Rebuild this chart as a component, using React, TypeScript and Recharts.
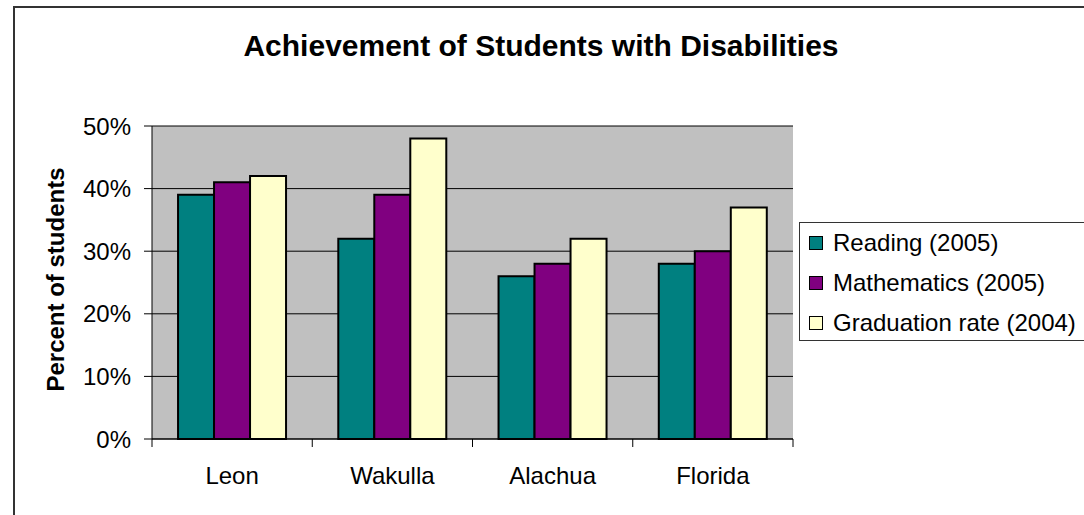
import React from 'react';
import {
  BarChart,
  Bar,
  XAxis,
  YAxis,
  CartesianGrid,
} from 'recharts';

// Chart data
const categories = ['Leon', 'Wakulla', 'Alachua', 'Florida'];
const reading2005 = [39, 32, 26, 28];
const math2005 = [41, 39, 28, 30];
const graduation2004 = [42, 48, 32, 37];
const yTicks = [0, 10, 20, 30, 40, 50];

const series = [
  { key: 'reading', name: 'Reading (2005)', values: reading2005, color: '#008080' },
  { key: 'math', name: 'Mathematics (2005)', values: math2005, color: '#800080' },
  { key: 'grad', name: 'Graduation rate (2004)', values: graduation2004, color: '#FFFFCC' },
];

const chartData = categories.map((name, i) => {
  const row: { [k: string]: string | number } = { name };
  series.forEach(s => {
    row[s.key] = s.values[i];
  });
  return row;
});

const FONT = '"Liberation Sans", Arial, sans-serif';

// category label plus tick marks on the category boundaries (Excel style)
const CategoryTick = (props: any) => {
  const { x, y, payload, index, visibleTicksCount, width } = props;
  const half = payload?.offset || (width / visibleTicksCount) / 2;
  const axisY = y - 28;
  return (
    <g>
      <line x1={x - half} x2={x - half} y1={axisY} y2={axisY + 8} stroke="#000" />
      {index === visibleTicksCount - 1 && (
        <line x1={x + half} x2={x + half} y1={axisY} y2={axisY + 8} stroke="#000" />
      )}
      <text x={x} y={y} dy="0.71em" textAnchor="middle" fontSize={24} fill="#000" fontFamily={FONT}>
        {payload.value}
      </text>
    </g>
  );
};

const YTitle = (props: any) => {
  const { viewBox } = props;
  const cx = viewBox.x + 64;
  const cy = viewBox.y + viewBox.height / 2 - 3;
  return (
    <text
      x={cx}
      y={cy}
      transform={`rotate(-90, ${cx}, ${cy})`}
      textAnchor="middle"
      fontSize={24}
      fontWeight="bold"
      fill="#000"
      fontFamily={FONT}
    >
      Percent of students
    </text>
  );
};

const App: React.FC = () => {
  return (
    <div
      style={{
        position: 'fixed',
        left: 0,
        top: 0,
        width: 1084,
        height: 515,
        overflow: 'hidden',
        background: '#fff',
        fontFamily: FONT,
      }}
    >
      <div
        style={{
          position: 'absolute',
          left: 241,
          top: 31,
          width: 600,
          textAlign: 'center',
          fontSize: 30,
          lineHeight: '30px',
          fontWeight: 'bold',
          color: '#000',
        }}
      >
        Achievement of Students with Disabilities
      </div>

      <div style={{ position: 'absolute', left: 0, top: 0 }}>
        <BarChart
          width={1084}
          height={515}
          data={chartData}
          margin={{ top: 126, right: 291, bottom: 0, left: 0 }}
          barCategoryGap="16.25%"
          barGap={0}
        >
          <CartesianGrid vertical={false} stroke="#000" fill="#C0C0C0" fillOpacity={1} />
          <XAxis
            dataKey="name"
            height={76}
            tickLine={false}
            tickSize={8}
            tickMargin={20}
            axisLine={{ stroke: '#000' }}
            tick={<CategoryTick />}
            interval={0}
          />
          <XAxis xAxisId="top" orientation="top" dataKey="name" height={0} tick={false} tickLine={false} axisLine={{ stroke: '#808080', strokeWidth: 2 }} />
          <YAxis
            width={152}
            domain={[0, 50]}
            ticks={yTicks}
            tickFormatter={(v: number) => `${v}%`}
            tickSize={8}
            tickMargin={13}
            tickLine={{ stroke: '#000' }}
            axisLine={{ stroke: '#000' }}
            tick={{ fontSize: 24, fill: '#000', fontFamily: FONT }}
            label={<YTitle />}
            interval={0}
          />
          <YAxis yAxisId="right" orientation="right" width={0} domain={[0, 50]} tick={false} tickLine={false} axisLine={{ stroke: '#808080', strokeWidth: 2 }} />
          {series.map(s => (
            <Bar
              key={s.key}
              dataKey={s.key}
              name={s.name}
              fill={s.color}
              stroke="#000"
              strokeWidth={2}
              isAnimationActive={false}
            />
          ))}
        </BarChart>
      </div>

      <div
        style={{
          position: 'absolute',
          left: 799,
          top: 222,
          width: 400,
          height: 119,
          boxSizing: 'border-box',
          border: '1.5px solid #333',
          background: '#fff',
        }}
      >
        {series.map(s => (
          <div
            key={s.key}
            style={{ display: 'flex', alignItems: 'center', height: 40, fontSize: 24, color: '#000' }}
          >
            <span
              style={{
                display: 'inline-block',
                width: 12,
                height: 12,
                marginLeft: 9,
                marginRight: 10,
                background: s.color,
                border: '1px solid #000',
              }}
            />
            <span>{s.name}</span>
          </div>
        ))}
      </div>

      {/* chart area frame, runs off the right and bottom edges */}
      <div
        style={{
          position: 'absolute',
          left: 13,
          top: 6,
          width: 1200,
          height: 600,
          borderLeft: '2px solid #333',
          borderTop: '2px solid #333',
          pointerEvents: 'none',
        }}
      />
    </div>
  );
};

export default App;
